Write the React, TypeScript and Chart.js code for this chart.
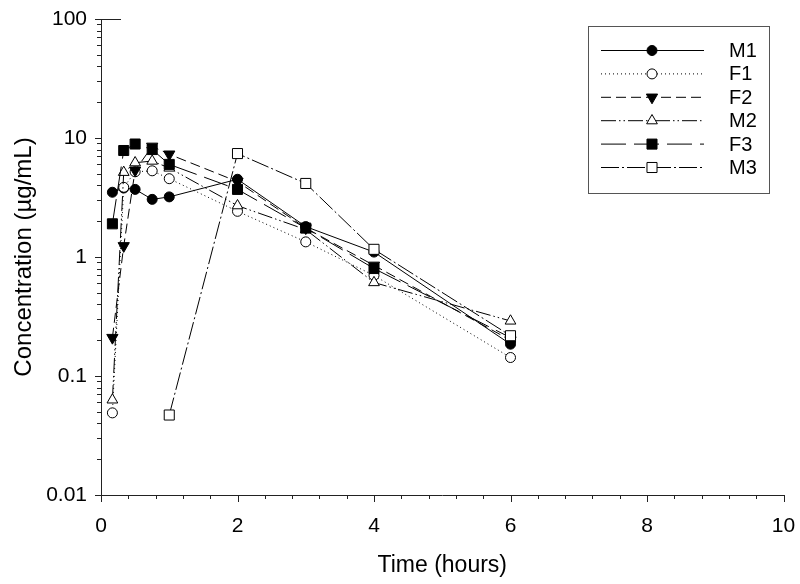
import React, { useEffect, useRef } from 'react';
import { Chart, registerables } from 'chart.js';

Chart.register(...registerables);

// ---- data ----
const times = [0.167, 0.333, 0.5, 0.75, 1, 2, 3, 4, 6];
const timesM3 = [1, 2, 3, 4, 6];
const seriesNames = ['M1', 'F1', 'F2', 'M2', 'F3', 'M3'];
const m1 = [3.5, 3.8, 3.7, 3.05, 3.2, 4.5, 1.8, 1.1, 0.185];
const f1 = [0.049, 3.85, 5.2, 5.3, 4.55, 2.42, 1.34, 0.7, 0.143];
const f2 = [0.21, 1.24, 5.35, 8.5, 7.3, 4.3, 1.75, 0.85, 0.2];
const m2 = [0.063, 5.15, 6.2, 6.4, 5.6, 2.7, 1.7, 0.61, 0.29];
const f3 = [1.9, 7.85, 8.9, 8.0, 6.0, 3.7, 1.75, 0.8, 0.21];
const m3 = [0.047, 7.4, 4.15, 1.16, 0.218];
const xTickValues = [0, 2, 4, 6, 8, 10];
const yTickValues = [0.01, 0.1, 1, 10, 100];
const yTickLabels = ['0.01', '0.1', '1', '10', '100'];

const FONT = "'Liberation Sans', Arial, sans-serif";

type Sty = { shape: string; rot: number; fill: string; dash: number[]; r: number };
const styles: Sty[] = [
  { shape: 'circle', rot: 0, fill: '#000', dash: [], r: 5 },
  { shape: 'circle', rot: 0, fill: '#fff', dash: [1, 3], r: 5 },
  { shape: 'triangle', rot: 180, fill: '#000', dash: [10, 5], r: 6.5 },
  { shape: 'triangle', rot: 0, fill: '#fff', dash: [15, 3, 1.5, 3, 1.5, 3], r: 6.2 },
  { shape: 'rect', rot: 0, fill: '#000', dash: [25, 8], r: 7.1 },
  { shape: 'rect', rot: 0, fill: '#fff', dash: [18, 3, 2, 3], r: 7.1 },
];
const seriesValues = [m1, f1, f2, m2, f3, m3];
const seriesTimes = [times, times, times, times, times, timesM3];

function drawMarker(ctx: CanvasRenderingContext2D, s: Sty, x: number, y: number) {
  ctx.save();
  ctx.setLineDash([]);
  ctx.beginPath();
  if (s.shape === 'circle') {
    ctx.arc(x, y, s.r, 0, Math.PI * 2);
  } else if (s.shape === 'rect') {
    const h = s.r * Math.SQRT1_2;
    ctx.rect(x - h, y - h, 2 * h, 2 * h);
  } else {
    let rad = (s.rot * Math.PI) / 180;
    for (let i = 0; i < 3; i++) {
      const px = x + Math.sin(rad) * s.r;
      const py = y - Math.cos(rad) * s.r;
      if (i === 0) ctx.moveTo(px, py);
      else ctx.lineTo(px, py);
      rad += (2 * Math.PI) / 3;
    }
    ctx.closePath();
  }
  ctx.fillStyle = s.fill;
  ctx.fill();
  ctx.strokeStyle = '#000';
  ctx.lineWidth = 1;
  ctx.stroke();
  ctx.restore();
}

const decorPlugin = {
  id: 'decor',
  afterDraw(chart: any) {
    const ctx: CanvasRenderingContext2D = chart.ctx;
    const xs = chart.scales.x;
    const ys = chart.scales.y;
    const { left, bottom } = chart.chartArea;
    ctx.save();
    ctx.strokeStyle = '#222';
    ctx.lineWidth = 1;
    ctx.setLineDash([]);
    ctx.beginPath();
    // y ticks
    for (let e = -2; e <= 2; e++) {
      const base = Math.pow(10, e);
      const py = Math.round(ys.getPixelForValue(base)) + 0.5;
      ctx.moveTo(left - 6, py);
      ctx.lineTo(left, py);
      if (e < 2) {
        for (let k = 2; k <= 9; k++) {
          const p = Math.round(ys.getPixelForValue(k * base)) + 0.5;
          ctx.moveTo(left - 4, p);
          ctx.lineTo(left, p);
        }
      }
    }
    // top short line at 100
    const pTop = Math.round(ys.getPixelForValue(100)) + 0.5;
    ctx.moveTo(left, pTop);
    ctx.lineTo(left + 20, pTop);
    // x ticks
    for (let i = 0; i <= 25; i++) {
      const v = i * 0.4;
      const px = Math.round(xs.getPixelForValue(v)) + 0.5;
      const major = i % 5 === 0;
      ctx.moveTo(px, bottom);
      ctx.lineTo(px, bottom + (major ? 7 : 4));
    }
    ctx.stroke();

    // legend
    const bx = 588.5, by = 26.5, bw = 181, bh = 167;
    ctx.strokeStyle = '#555';
    ctx.strokeRect(bx, by, bw, bh);
    ctx.font = `20px ${FONT}`;
    ctx.fillStyle = '#000';
    ctx.textBaseline = 'middle';
    ctx.textAlign = 'left';
    for (let i = 0; i < seriesNames.length; i++) {
      const y = 50.5 + i * 23.4;
      const s = styles[i];
      ctx.strokeStyle = '#000';
      ctx.setLineDash(s.dash);
      ctx.beginPath();
      ctx.moveTo(601, y);
      ctx.lineTo(704, y);
      ctx.stroke();
      drawMarker(ctx, s, 652, y);
      ctx.fillText(seriesNames[i], 729, y + 1);
    }
    ctx.restore();
  },
};

export default function App() {
  const ref = useRef<HTMLCanvasElement | null>(null);
  useEffect(() => {
    const canvas = ref.current;
    if (!canvas) return;
    const datasets = seriesNames.map((name, i) => ({
      label: name,
      data: seriesTimes[i].map((t, j) => ({ x: t, y: seriesValues[i][j] })),
      borderColor: '#000',
      borderWidth: 1,
      borderDash: styles[i].dash,
      backgroundColor: styles[i].fill,
      pointBackgroundColor: styles[i].fill,
      pointBorderColor: '#000',
      pointBorderWidth: 1,
      pointStyle: styles[i].shape,
      pointRotation: styles[i].rot,
      pointRadius: styles[i].r,
      fill: false,
      tension: 0,
      order: seriesNames.length - i,
    }));
    const chart = new Chart(canvas, {
      type: 'line',
      data: { datasets },
      plugins: [decorPlugin],
      options: {
        animation: false,
        responsive: false,
        devicePixelRatio: 1,
        layout: { padding: { top: 19, right: 16.5, left: 0, bottom: 0 } },
        plugins: { legend: { display: false }, tooltip: { enabled: false } },
        scales: {
          x: {
            type: 'linear',
            min: 0,
            max: 10,
            grid: { display: false, drawTicks: false },
            border: { display: true, color: '#222', width: 1 },
            afterBuildTicks: (s: any) => {
              s.ticks = xTickValues.map((v) => ({ value: v }));
            },
            ticks: {
              color: '#000',
              font: { family: FONT, size: 21 },
              padding: 19,
              maxRotation: 0,
              autoSkip: false,
              callback: (v: any) => String(v),
            },
            title: {
              display: true,
              text: 'Time (hours)',
              color: '#000',
              font: { family: FONT, size: 23 },
              padding: { top: 0, bottom: 5 },
            },
            afterFit: (s: any) => {
              s.height = 89;
              s.paddingLeft = 0;
              s.paddingRight = 0;
            },
          },
          y: {
            type: 'logarithmic',
            min: 0.01,
            max: 100,
            grid: { display: false, drawTicks: false },
            border: { display: true, color: '#222', width: 1 },
            afterBuildTicks: (s: any) => {
              s.ticks = yTickValues.map((v) => ({ value: v, major: true }));
            },
            ticks: {
              color: '#000',
              font: { family: FONT, size: 21 },
              padding: 14,
              autoSkip: false,
              callback: (_v: any, idx: number) => yTickLabels[idx],
            },
            title: {
              display: true,
              text: 'Concentration (µg/mL)',
              color: '#000',
              font: { family: FONT, size: 24 },
              padding: { top: 10, bottom: 0 },
            },
            afterFit: (s: any) => {
              s.width = 101;
              s.paddingTop = 0;
              s.paddingBottom = 0;
            },
          },
        },
      },
    } as any);
    return () => chart.destroy();
  }, []);
  return (
    <div style={{ position: 'absolute', left: 0, top: 0, width: 800, height: 584, background: '#fff' }}>
      <canvas ref={ref} width={800} height={584} style={{ display: 'block' }} />
    </div>
  );
}
